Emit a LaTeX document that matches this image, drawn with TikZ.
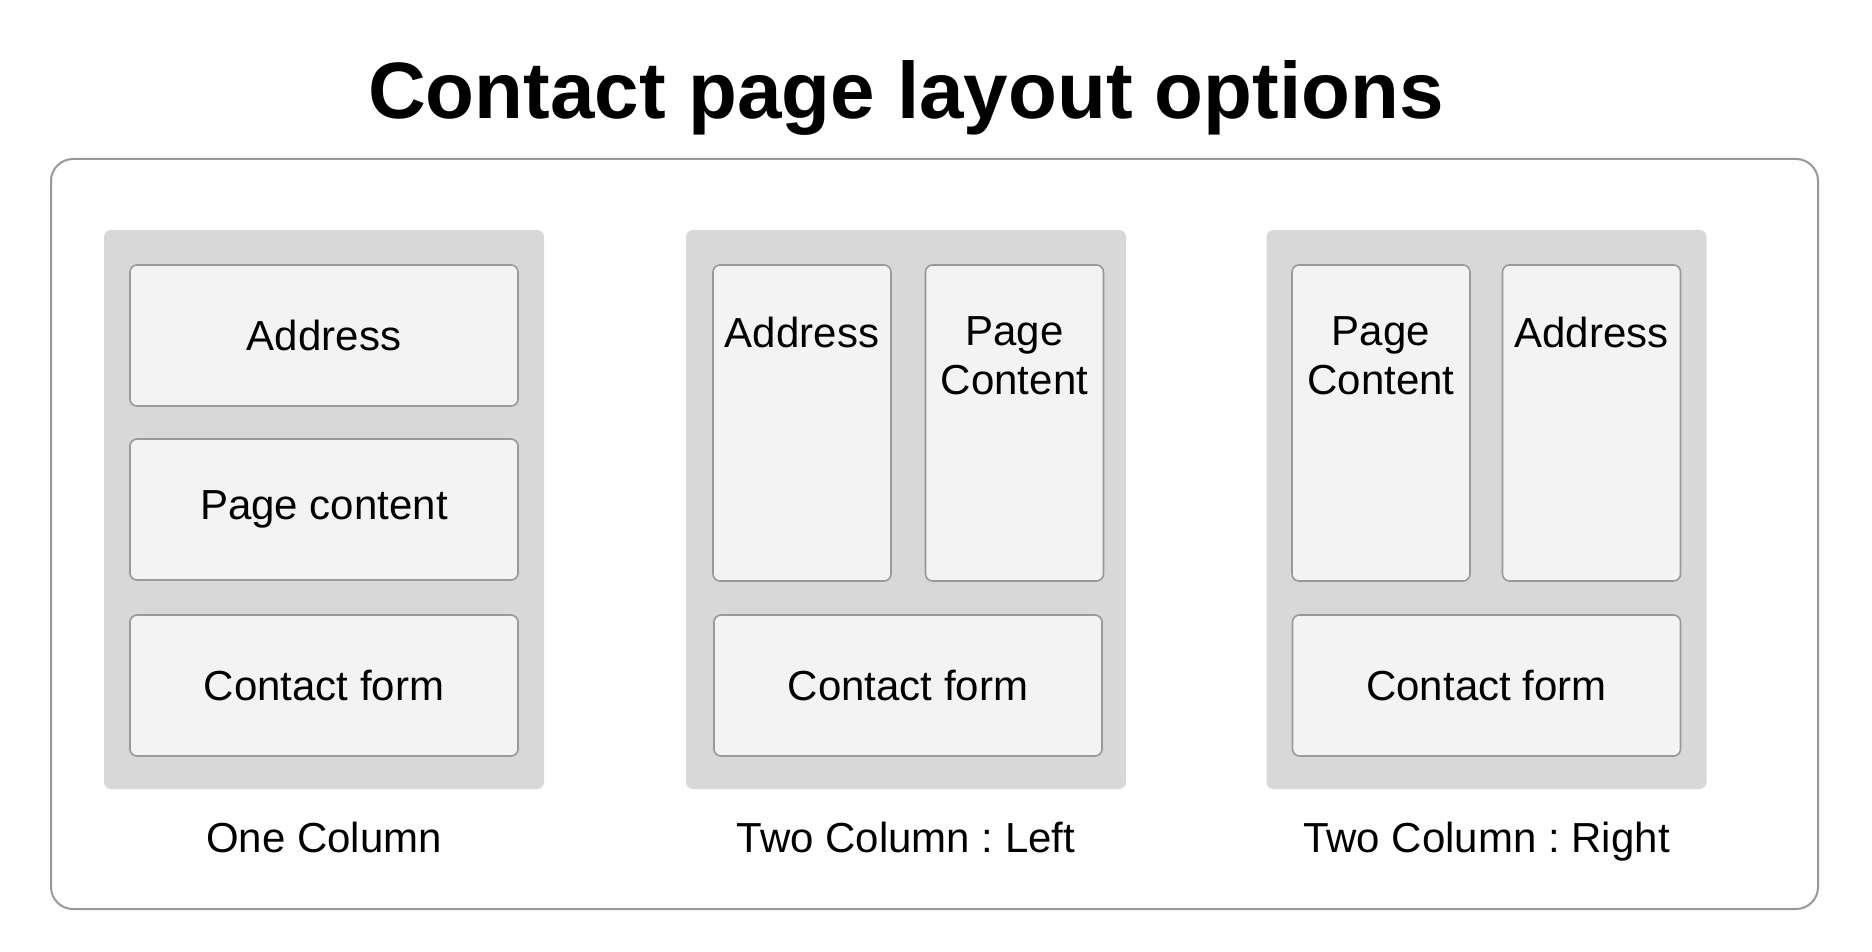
\documentclass[tikz,border=0pt]{standalone}
\usepackage{fontspec}
\setmainfont{Liberation Sans}
\usepackage{xcolor}
\usetikzlibrary{positioning}
\definecolor{panelgray}{HTML}{D8D8D8}
\definecolor{boxgray}{HTML}{F3F3F3}
\definecolor{linegray}{HTML}{999999}
\frenchspacing
\tikzset{
  frame/.style={draw=linegray, line width=1pt, rounded corners=11pt,
    minimum width=883.5pt, minimum height=375pt, inner sep=0pt},
  panel/.style={fill=panelgray, rounded corners=3.5pt,
    minimum width=220pt, minimum height=279.5pt, inner sep=0pt},
  blockbox/.style={draw=linegray, fill=boxgray, line width=0.8pt, rounded corners=3.5pt,
    minimum width=194pt, minimum height=70.5pt, inner sep=0pt,
    font=\fontsize{21}{24.5}\selectfont},
  colbox/.style={blockbox, minimum width=89pt, minimum height=158pt},
  coltext/.style={anchor=north, inner sep=0pt, align=center,
    font=\fontsize{21}{24.5}\selectfont},
  caption/.style={anchor=base, inner sep=0pt, font=\fontsize{21}{24.5}\selectfont},
}
\begin{document}
\begin{tikzpicture}[x=0.5pt, y=-0.5pt]
  \useasboundingbox (0,0) rectangle (1872,952);

  \node[anchor=base, inner sep=0pt, font=\bfseries\fontsize{40}{46}\selectfont] (title) at (906,119) {Contact page layout options};
  \node[frame] (frame) at (934.5,534) {};

  % one column
  \node[panel] (p1) at (324,509.5) {};
  \node[blockbox] (p1addr) at (324,335.5) {Address};
  \node[blockbox] (p1page) at (324,509.5) {Page content};
  \node[blockbox] (p1form) at (324,685.5) {Contact form};
  \node[caption] (c1) at (324,852) {One Column};

  % two column : left
  \node[panel] (p2) at (906,509.5) {};
  \node[colbox] (p2addr) at (802,423) {};
  \node[colbox] (p2page) at (1014.5,423) {};
  \node[coltext, below=26pt of p2addr.north] (t2addr) {Address};
  \node[coltext, below=26pt of p2page.north] (t2page) {Page\\Content};
  \node[blockbox] (p2form) at (908,685.5) {Contact form};
  \node[caption] (c2) at (906,852) {Two Column : Left};

  % two column : right
  \node[panel] (p3) at (1486.5,509.5) {};
  \node[colbox] (p3page) at (1381,423) {};
  \node[colbox] (p3addr) at (1591.5,423) {};
  \node[coltext, below=26pt of p3page.north] (t3page) {Page\\Content};
  \node[coltext, below=26pt of p3addr.north] (t3addr) {Address};
  \node[blockbox] (p3form) at (1486.5,685.5) {Contact form};
  \node[caption] (c3) at (1486.5,852) {Two Column : Right};
\end{tikzpicture}
\end{document}
